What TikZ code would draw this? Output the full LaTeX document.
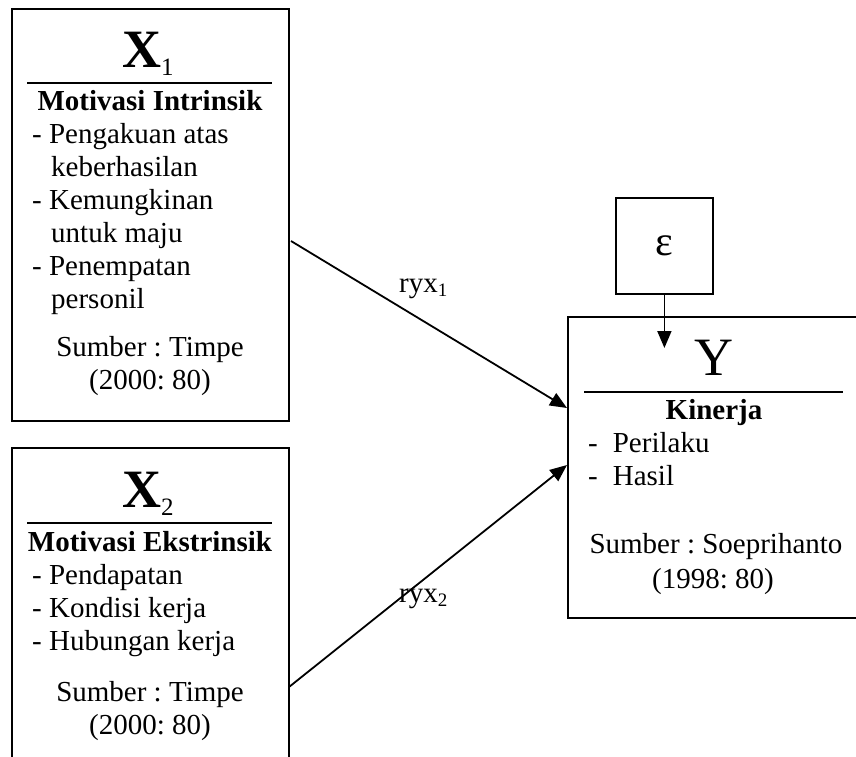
\documentclass[tikz,border=0pt]{standalone}
\usepackage{fontspec}
\setmainfont{Liberation Serif}
\usetikzlibrary{arrows.meta}
\frenchspacing
\newcommand{\bodyfont}{\fontsize{29}{33}\selectfont}
\newcommand{\bigfont}{\fontsize{54}{54}\selectfont}
\newcommand{\subfont}{\fontsize{25}{25}\selectfont}
\newcommand{\smallsub}{\fontsize{19}{19}\selectfont}
\begin{document}
\begin{tikzpicture}[x=1pt,y=-1pt,
  box/.style={draw,line width=1.8pt,inner sep=0pt,anchor=north west},
  rulel/.style={line width=2.6pt},
  txt/.style={inner sep=0pt,font=\bodyfont},
  itemtxt/.style={txt,anchor=base west},
  ctxt/.style={txt,anchor=base},
  conn/.style={line width=1.8pt,-{Triangle[length=17pt,width=14pt]}}]
\path[use as bounding box] (0,0) rectangle (856,756);
\clip (0,0) rectangle (856,756);
% boxes
\node[box,minimum width=277pt,minimum height=412pt] (x1) at (11,8) {};
\node[box,minimum width=277pt,minimum height=318pt] (x2) at (11,447) {};
\node[box,minimum width=300pt,minimum height=301pt] (y) at (567,316) {};
\node[box,minimum width=97pt,minimum height=96pt] (eps) at (615,197) {};
% X1 content
\node[inner sep=0pt,anchor=base] (x1t) at (148,67) {\bigfont\bfseries X\raisebox{-8pt}{\subfont\mdseries 1}};
\draw[rulel] (27,83) -- (272,83);
\node[ctxt] (x1h) at (150,110) {\bfseries Motivasi Intrinsik};
\node[itemtxt] (x1a) at (32,143) {- Pengakuan atas};
\node[itemtxt] (x1b) at (51,176) {keberhasilan};
\node[itemtxt] (x1c) at (32,209) {- Kemungkinan};
\node[itemtxt] (x1d) at (51,242) {untuk maju};
\node[itemtxt] (x1e) at (32,275) {- Penempatan};
\node[itemtxt] (x1f) at (51,308) {personil};
\node[ctxt] (x1s) at (150,356) {Sumber : Timpe};
\node[ctxt] (x1y) at (150,389) {(2000: 80)};
% X2 content
\node[inner sep=0pt,anchor=base] (x2t) at (148,507) {\bigfont\bfseries X\raisebox{-8pt}{\subfont\mdseries 2}};
\draw[rulel] (27,523) -- (272,523);
\node[ctxt] (x2h) at (150,551) {\bfseries Motivasi Ekstrinsik};
\node[itemtxt] (x2a) at (32,584) {- Pendapatan};
\node[itemtxt] (x2b) at (32,617) {- Kondisi kerja};
\node[itemtxt] (x2c) at (32,650) {- Hubungan kerja};
\node[ctxt] (x2s) at (150,701) {Sumber : Timpe};
\node[ctxt] (x2y) at (150,734) {(2000: 80)};
% Y content
\node[inner sep=0pt,anchor=base] (yt) at (714,375) {\bigfont Y};
\draw[rulel] (584,392) -- (843,392);
\node[ctxt] (yh) at (714,419) {\bfseries Kinerja};
\node[itemtxt] (ya) at (588,452) {-\hspace{15pt}Perilaku};
\node[itemtxt] (yb) at (588,485) {-\hspace{15pt}Hasil};
\node[ctxt] (ys) at (716,553) {Sumber : Soeprihanto};
\node[ctxt] (yy) at (713,588) {(1998: 80)};
% epsilon
\node[inner sep=0pt] (epst) at (eps.center) {\fontsize{42}{42}\selectfont ε};
% connectors
\coordinate (a1s) at (291,241);
\coordinate (a1e) at (567,408);
\coordinate (a2s) at (289,687);
\coordinate (a2e) at (567,465);
\coordinate (epsend) at (eps.south |- 0,348);
\draw[conn] (a1s) -- (a1e);
\draw[conn] (a2s) -- (a2e);
\draw[conn] (eps.south) -- (epsend);
% labels
\node[itemtxt] (r1) at (399,292) {ryx\raisebox{-4pt}{\smallsub 1}};
\node[itemtxt] (r2) at (399,602) {ryx\raisebox{-4pt}{\smallsub 2}};
\end{tikzpicture}
\end{document}
